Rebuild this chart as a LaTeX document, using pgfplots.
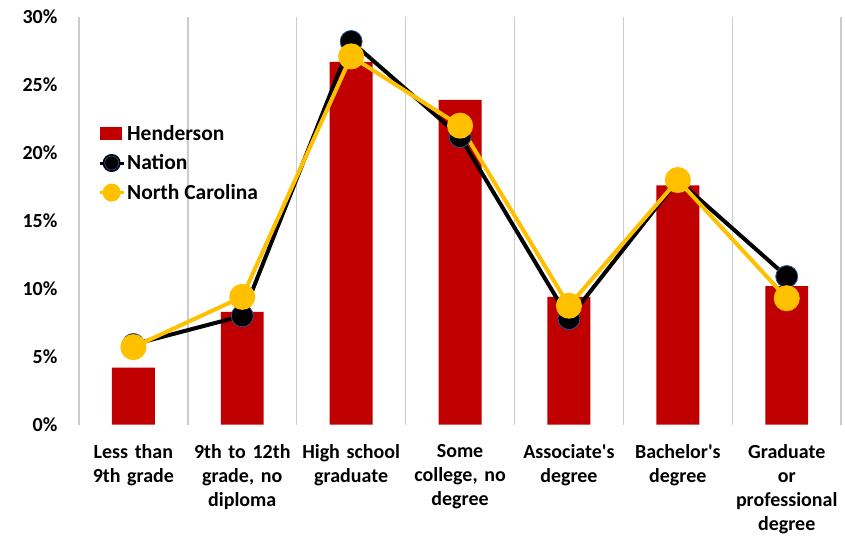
\documentclass[border=0pt]{standalone}
\usepackage{pgfplots}
\pgfplotsset{compat=1.18}
\usepackage{fontspec}
\setmainfont{Carlito}
\definecolor{hendred}{RGB}{192,0,0}
\definecolor{ncgold}{RGB}{255,192,0}
\definecolor{edgeblue}{RGB}{47,85,151}
\begin{document}
\begin{tikzpicture}
\begin{axis}[
	name=ax,
	scale only axis,
	width=763pt, height=408pt,
	xmin=-0.5, xmax=6.5,
	ymin=0, ymax=30,
	xtick={0,1,2,3,4,5,6},
	xticklabels={{Less than\\9th grade}, {9th to 12th\\grade, no\\diploma}, {High school\\graduate}, {Some\\college, no\\degree}, {Associate\textquotesingle s\\degree}, {Bachelor\textquotesingle s\\degree}, {Graduate\\or\\professional\\degree}},
	minor xtick={-0.5,0.5,1.5,2.5,3.5,4.5,5.5,6.5},
	xminorgrids=true,
	minor grid style={draw=black!20, line width=1.5pt},
	ytick={0,5,10,15,20,25,30},
	yticklabel={\pgfmathprintnumber{\tick}\%},
	/pgf/number format/assume math mode=true,
	major tick length=0pt, minor tick length=0pt,
	axis line style={draw=none},
	tick label style={font=\fontsize{20}{24}\selectfont\bfseries},
	xticklabel style={align=center, text width=110pt, yshift=-16pt},
	yticklabel style={xshift=-18pt},
	legend style={draw=none, fill=none, at={(0.025,0.74)}, anchor=north west,
		font=\fontsize{21.5}{24}\selectfont\bfseries, row sep=9pt,
		inner sep=0pt},
	legend cell align=left,
	clip=false,
]
\addplot[ybar, bar width=43pt, bar shift=0pt, fill=hendred, draw=none,
	legend image code/.code={\fill[hendred] (0pt,-6.5pt) rectangle (22pt,6.5pt);}]
	coordinates {(0,4.2) (1,8.3) (2,26.7) (3,23.9) (4,9.4) (5,17.6) (6,10.2)};
\addlegendentry{Henderson}
\addplot[black, line width=4pt, mark=*, mark size=11pt,
	mark options={fill=black, draw=edgeblue, line width=0.8pt},
	legend image code/.code={\draw[black, line width=3pt] (0pt,0pt) -- (24pt,0pt);
		\fill[black] (12pt,0pt) circle (7pt); \draw[edgeblue, line width=0.6pt] (12pt,0pt) circle (7pt);}]
	coordinates {(0,5.9) (1,8.0) (2,28.2) (3,21.2) (4,7.8) (5,18.0) (6,10.9)};
\addlegendentry{Nation}
\addplot[ncgold, line width=4pt, mark=*, mark size=11pt,
	mark options={fill=ncgold, draw=ncgold},
	legend image code/.code={\draw[ncgold, line width=3pt] (0pt,0pt) -- (24pt,0pt);
		\fill[ncgold] (12pt,0pt) circle (7pt);}]
	coordinates {(0,5.7) (1,9.4) (2,27.1) (3,22.0) (4,8.75) (5,18.0) (6,9.3)};
\addlegendentry{North Carolina}
\end{axis}
\path ([xshift=-79pt,yshift=-111pt]ax.south west) rectangle ([xshift=3pt,yshift=17pt]ax.north east);
\end{tikzpicture}
\end{document}
